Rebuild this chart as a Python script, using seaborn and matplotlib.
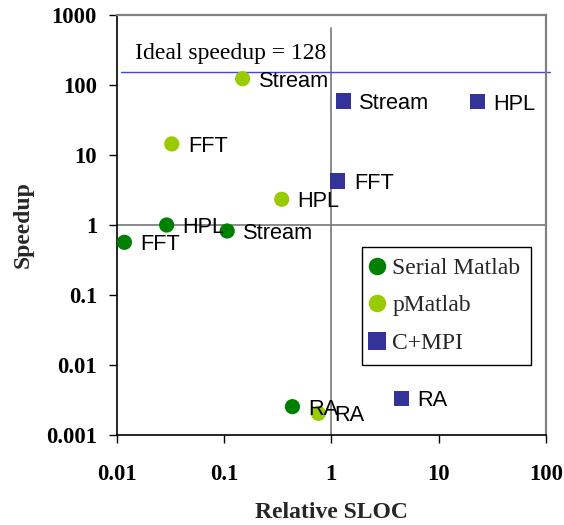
import numpy as np
import pandas as pd
import matplotlib
matplotlib.use("Agg")
import matplotlib.pyplot as plt
import seaborn as sns
from matplotlib.patches import Rectangle
from matplotlib.ticker import NullLocator

# ---- data ----
benchmarks = ["FFT", "HPL", "Stream", "RA"]
series_names = ["Serial Matlab", "pMatlab", "C+MPI"]

serial_sloc = [0.0118, 0.0292, 0.107, 0.434]
serial_speedup = [0.566, 1.0, 0.821, 0.00254]

pmatlab_sloc = [0.0326, 0.345, 0.149, 0.757]
pmatlab_speedup = [14.4, 2.33, 123.0, 0.00204]

cmpi_sloc = [1.148, 22.9, 1.294, 4.53]
cmpi_speedup = [4.25, 57.7, 59.0, 0.00334]

ideal_label = "Ideal speedup = 128"
ideal_line_speedup = 153.0
ideal_line_sloc = [0.0109, 109.0]
ideal_text_pos = (0.0148, 233.0)

ref_sloc = 1.0
ref_speedup = 1.0
ref_vline_speedup = [0.001, 645.0]

x_ticks = [0.01, 0.1, 1, 10, 100]
x_tick_labels = ["0.01", "0.1", "1", "10", "100"]
y_ticks = [0.001, 0.01, 0.1, 1, 10, 100, 1000]
y_tick_labels = ["0.001", "0.01", "0.1", "1", "10", "100", "1000"]

colors = {"Serial Matlab": "#008000", "pMatlab": "#99CC00", "C+MPI": "#333399"}
markers = {"Serial Matlab": "o", "pMatlab": "o", "C+MPI": "s"}

df = pd.concat([
    pd.DataFrame({"sloc": serial_sloc, "speedup": serial_speedup, "bench": benchmarks, "series": "Serial Matlab"}),
    pd.DataFrame({"sloc": pmatlab_sloc, "speedup": pmatlab_speedup, "bench": benchmarks, "series": "pMatlab"}),
    pd.DataFrame({"sloc": cmpi_sloc, "speedup": cmpi_speedup, "bench": benchmarks, "series": "C+MPI"}),
], ignore_index=True)

sns.set_style("ticks")
plt.rcParams["font.family"] = ["Liberation Serif", "DejaVu Serif"]

fig, ax = plt.subplots(figsize=(5.64, 5.25), dpi=100)
fig.subplots_adjust(left=116.7 / 564, right=546 / 564, bottom=1 - 435 / 525, top=1 - 15 / 525)
ax.set_xscale("log")
ax.set_yscale("log")

sns.scatterplot(data=df, x="sloc", y="speedup", hue="series", style="series",
                hue_order=series_names, style_order=series_names,
                palette=colors, markers=markers, s=120, linewidth=0, ax=ax, zorder=3)

# reference lines
ax.axhline(ref_speedup, color="#777777", lw=1.2, zorder=1)
ax.plot([ref_sloc, ref_sloc], ref_vline_speedup, color="#777777", lw=1.2, zorder=1)
ax.plot(ideal_line_sloc, [ideal_line_speedup, ideal_line_speedup], color="#4040FF",
        lw=1.0, zorder=2, clip_on=False)

t = ax.text(ideal_text_pos[0], ideal_text_pos[1], ideal_label, fontsize=17,
            ha="left", va="baseline", color="black")
clip_rect = Rectangle((0, (435 - 60) / 420), 1, 0.3, transform=ax.transAxes)
t.set_clip_path(clip_rect)

# point labels
for _, row in df.iterrows():
    ax.annotate(row["bench"], (row["sloc"], row["speedup"]), xytext=(11.5, 0),
                textcoords="offset points", ha="left", va="center_baseline",
                fontsize=15.7, family=["Liberation Sans", "DejaVu Sans"], color="black",
                zorder=4)

ax.set_xlim(x_ticks[0], x_ticks[-1])
ax.set_ylim(y_ticks[0], y_ticks[-1])
ax.set_xticks(x_ticks, x_tick_labels)
ax.set_yticks(y_ticks, y_tick_labels)
ax.xaxis.set_minor_locator(NullLocator())
ax.yaxis.set_minor_locator(NullLocator())
ax.tick_params(axis="both", which="major", direction="out", length=5.8, width=1.0,
               color="black", labelsize=16.3, labelcolor="black")
ax.tick_params(axis="x", pad=15)
ax.tick_params(axis="y", pad=8.3)
for lbl in ax.get_xticklabels() + ax.get_yticklabels():
    lbl.set_fontweight("bold")

for s in ["left", "bottom"]:
    ax.spines[s].set_color("black")
    ax.spines[s].set_linewidth(1.2)
for s in ["top", "right"]:
    ax.spines[s].set_color("#808080")
    ax.spines[s].set_linewidth(1.6)

ax.set_xlabel("Relative SLOC", fontsize=17, fontweight="bold")
ax.set_ylabel("Speedup", fontsize=17, fontweight="bold")
ax.xaxis.set_label_coords(0.5, -0.1595)
ax.yaxis.set_label_coords(-0.194, 0.5)

handles, labels = ax.get_legend_handles_labels()
leg = ax.legend(handles, labels, loc="upper left",
                bbox_to_anchor=(361.7 / 564, 1 - 246.7 / 525), bbox_transform=fig.transFigure,
                frameon=True, fancybox=False, edgecolor="black", framealpha=1,
                fontsize=17, borderpad=0.45, labelspacing=0.68, handlelength=0.4,
                handletextpad=0.45, borderaxespad=0, markerscale=1.15)
leg.get_frame().set_linewidth(1.0)

fig.savefig("out.png", dpi=100)
